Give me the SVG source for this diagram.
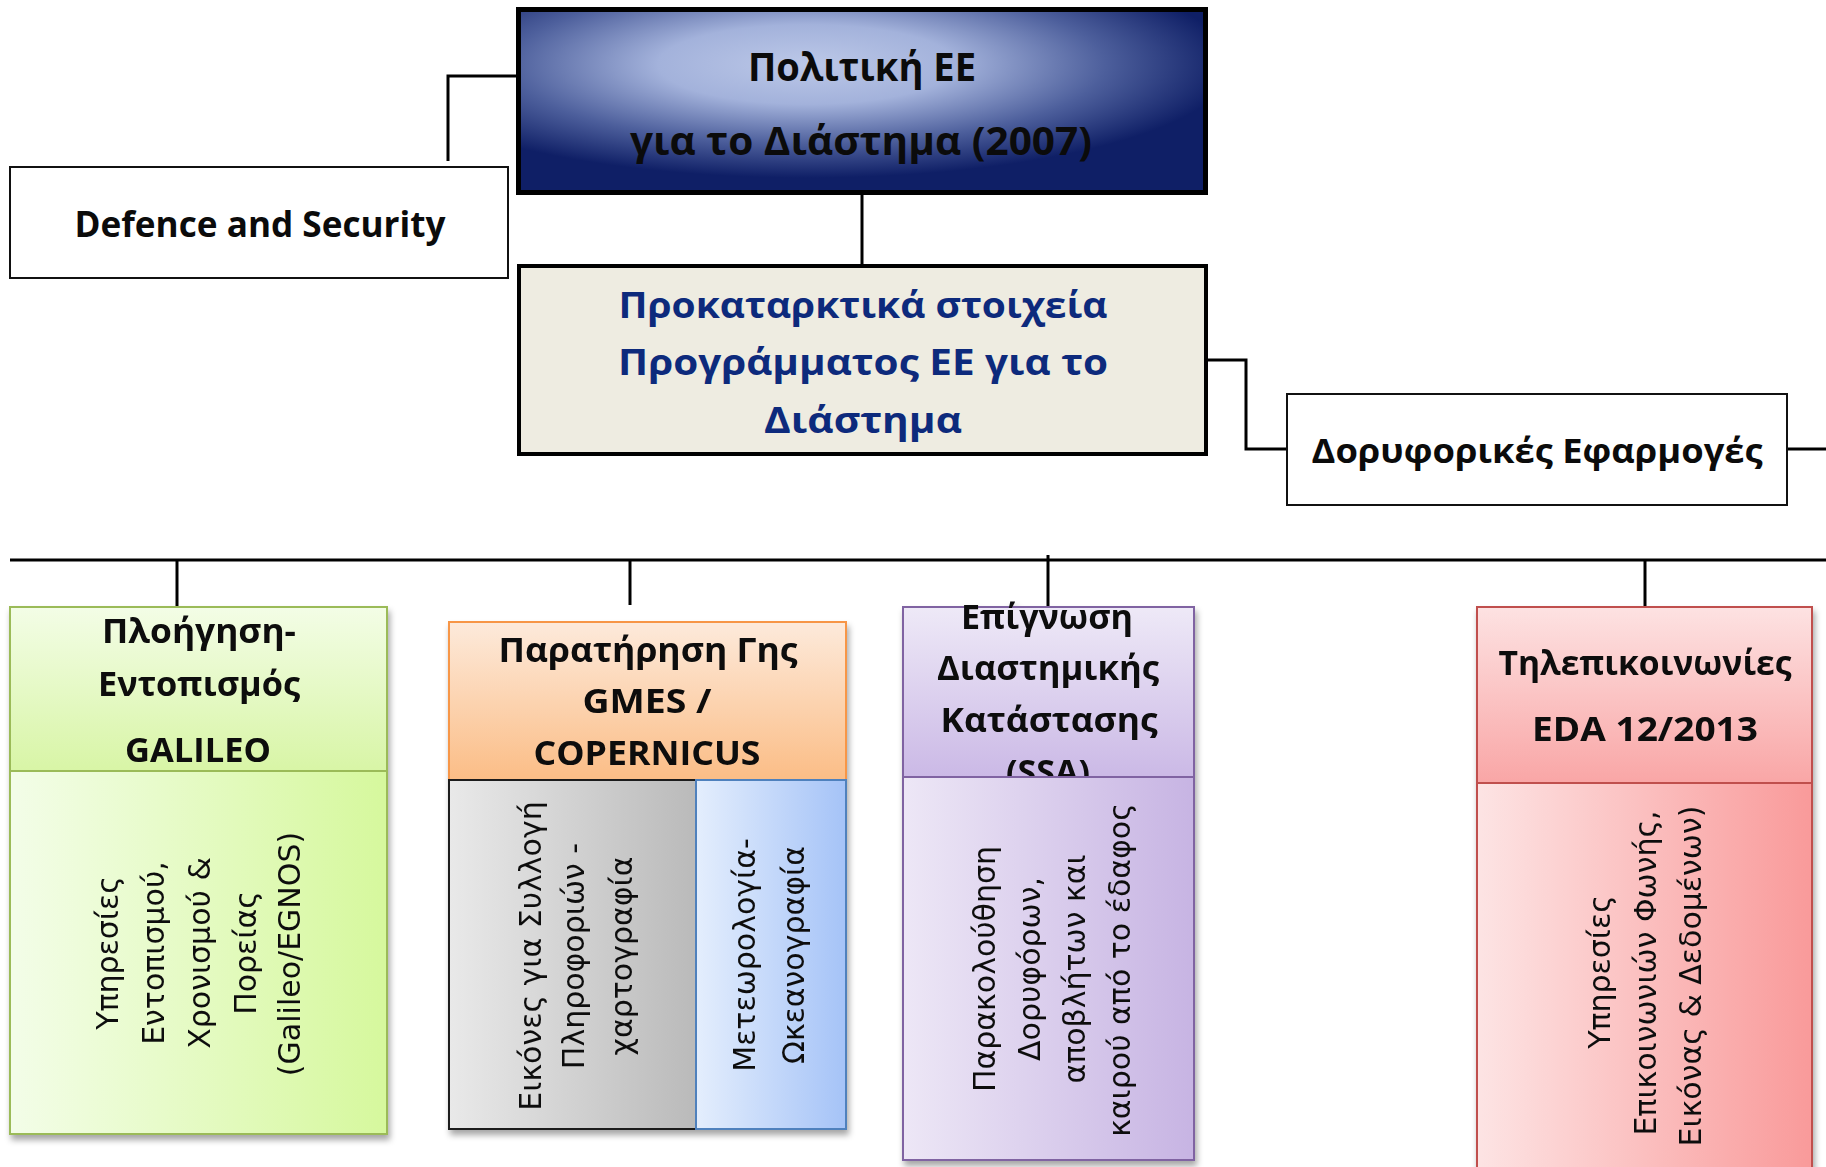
<svg xmlns="http://www.w3.org/2000/svg" width="1826" height="1167" viewBox="0 0 1826 1167">
<defs>
<radialGradient id="gTitle" cx="0.42" cy="0.3" r="0.62">
<stop offset="0" stop-color="#bcc8e8"/>
<stop offset="0.35" stop-color="#a3b2db"/>
<stop offset="0.7" stop-color="#4d5f9c"/>
<stop offset="1" stop-color="#0f1f66"/>
</radialGradient>
<linearGradient id="gGreenH" x1="0" y1="0" x2="0" y2="1"><stop offset="0" stop-color="#f3fde6"/><stop offset="1" stop-color="#d8f5a6"/></linearGradient>
<linearGradient id="gGreenB" x1="0" y1="0" x2="1" y2="0"><stop offset="0" stop-color="#f3fde8"/><stop offset="1" stop-color="#d6f89d"/></linearGradient>
<linearGradient id="gOrangeH" x1="0" y1="0" x2="0" y2="1"><stop offset="0" stop-color="#fdeadb"/><stop offset="1" stop-color="#fbbd86"/></linearGradient>
<linearGradient id="gGray" x1="0" y1="0" x2="1" y2="0"><stop offset="0" stop-color="#e9e9e9"/><stop offset="1" stop-color="#bababa"/></linearGradient>
<linearGradient id="gBlue" x1="0" y1="0" x2="1" y2="0"><stop offset="0" stop-color="#e4eefd"/><stop offset="1" stop-color="#a5c3f7"/></linearGradient>
<linearGradient id="gPurpleH" x1="0" y1="0" x2="0" y2="1"><stop offset="0" stop-color="#eee9f7"/><stop offset="1" stop-color="#cbb9e6"/></linearGradient>
<linearGradient id="gPurpleB" x1="0" y1="0" x2="1" y2="0"><stop offset="0" stop-color="#ede7f6"/><stop offset="1" stop-color="#c7b4e3"/></linearGradient>
<linearGradient id="gRedH" x1="0" y1="0" x2="0" y2="1"><stop offset="0" stop-color="#fde2e2"/><stop offset="1" stop-color="#f9a6a6"/></linearGradient>
<linearGradient id="gRedB" x1="0" y1="0" x2="1" y2="0"><stop offset="0" stop-color="#fde4e4"/><stop offset="1" stop-color="#f99a9a"/></linearGradient>
<filter id="sh" x="-10%" y="-10%" width="120%" height="125%">
<feDropShadow dx="2" dy="5" stdDeviation="3" flood-color="#000" flood-opacity="0.35"/>
</filter>
</defs>
<style>
.b{font-family:"Open Sans","Noto Sans","DejaVu Sans",sans-serif;font-weight:bold;text-anchor:middle;fill:#0b0b0b}
.t40{font-size:40px}
.t35{font-size:35px}
.t34{font-size:34px}
.blue{fill:#0d2a7c}
.r{font-family:"DejaVu Sans","Noto Sans",sans-serif;font-size:30px;text-anchor:middle;fill:#111}
.ln{stroke:#000;stroke-width:3;fill:none}
</style>

<g id="connectors">
<polyline class="ln" points="517,76 448,76 448,161"/>
<line class="ln" x1="862" y1="195" x2="862" y2="265"/>
<polyline class="ln" points="1208,360 1246,360 1246,449 1287,449"/>
<line class="ln" x1="1788" y1="449" x2="1826" y2="449"/>
<line class="ln" x1="10" y1="560" x2="1826" y2="560" stroke-width="4"/>
<line class="ln" x1="177" y1="560" x2="177" y2="608"/>
<line class="ln" x1="630" y1="560" x2="630" y2="605"/>
<line class="ln" x1="1048" y1="555" x2="1048" y2="606"/>
<line class="ln" x1="1645" y1="560" x2="1645" y2="606"/>
</g>

<g id="node-politiki">
<rect x="518.5" y="9.5" width="687" height="183" fill="url(#gTitle)" stroke="#000" stroke-width="5"/>
<text class="b t40" x="862" y="81" textLength="228" lengthAdjust="spacingAndGlyphs">Πολιτική ΕΕ</text>
<text class="b t40" x="861" y="155" textLength="462" lengthAdjust="spacingAndGlyphs">για το Διάστημα (2007)</text>
</g>

<g id="node-defence">
<rect x="10" y="167" width="498" height="111" fill="#fff" stroke="#111" stroke-width="2"/>
<text class="b t35" x="260" y="237" textLength="371" lengthAdjust="spacingAndGlyphs">Defence and Security</text>
</g>

<g id="node-prokatarktika">
<rect x="519" y="266" width="687" height="188" fill="#eeece1" stroke="#000" stroke-width="4"/>
<text class="b t35 blue" x="863" y="318" textLength="489" lengthAdjust="spacingAndGlyphs">Προκαταρκτικά στοιχεία</text>
<text class="b t35 blue" x="863" y="375" textLength="490" lengthAdjust="spacingAndGlyphs">Προγράμματος ΕΕ για το</text>
<text class="b t35 blue" x="863" y="433" textLength="198" lengthAdjust="spacingAndGlyphs">Διάστημα</text>
</g>

<g id="node-doryforikes">
<rect x="1287" y="394" width="500" height="111" fill="#fff" stroke="#111" stroke-width="2"/>
<text class="b t34" x="1537" y="463" textLength="451" lengthAdjust="spacingAndGlyphs">Δορυφορικές Εφαρμογές</text>
</g>

<g id="node-galileo" filter="url(#sh)">
<rect x="10" y="607" width="377" height="164" fill="url(#gGreenH)" stroke="#9bbb59" stroke-width="2"/>
<rect x="10" y="771" width="377" height="363" fill="url(#gGreenB)" stroke="#9bbb59" stroke-width="2"/>
<text class="b t34" x="199" y="643" textLength="194" lengthAdjust="spacingAndGlyphs">Πλοήγηση-</text>
<text class="b t34" x="199" y="696" textLength="202" lengthAdjust="spacingAndGlyphs">Εντοπισμός</text>
<text class="b t34" x="198" y="762" textLength="146" lengthAdjust="spacingAndGlyphs">GALILEO</text>
<text class="r" transform="translate(118,953) rotate(-90)">Υπηρεσίες</text>
<text class="r" transform="translate(164,953) rotate(-90)">Εντοπισμού,</text>
<text class="r" transform="translate(210,953) rotate(-90)">Χρονισμού &amp;</text>
<text class="r" transform="translate(256,953) rotate(-90)">Πορείας</text>
<text class="r" transform="translate(300,954) rotate(-90)">(Galileo/EGNOS)</text>
</g>

<g id="node-copernicus" filter="url(#sh)">
<rect x="449" y="622" width="397" height="158" fill="url(#gOrangeH)" stroke="#f79646" stroke-width="2"/>
<rect x="449" y="780" width="247" height="349" fill="url(#gGray)" stroke="#1a1a1a" stroke-width="2"/>
<rect x="696" y="780" width="150" height="349" fill="url(#gBlue)" stroke="#4f81bd" stroke-width="2"/>
<text class="b t34" x="648" y="662" textLength="299" lengthAdjust="spacingAndGlyphs">Παρατήρηση Γης</text>
<text class="b t34" x="647" y="713" textLength="129" lengthAdjust="spacingAndGlyphs">GMES /</text>
<text class="b t34" x="647" y="765" textLength="227" lengthAdjust="spacingAndGlyphs">COPERNICUS</text>
<text class="r" transform="translate(541,956) rotate(-90)">Εικόνες για Συλλογή</text>
<text class="r" transform="translate(584,956) rotate(-90)">Πληροφοριών -</text>
<text class="r" transform="translate(632,956) rotate(-90)">χαρτογραφία</text>
<text class="r" transform="translate(755,955) rotate(-90)">Μετεωρολογία-</text>
<text class="r" transform="translate(804,955) rotate(-90)">Ωκεανογραφία</text>
</g>

<g id="node-ssa" filter="url(#sh)">
<rect x="903" y="607" width="291" height="170" fill="url(#gPurpleH)" stroke="#8064a2" stroke-width="2"/>
<text class="b t34" x="1047" y="629" textLength="172" lengthAdjust="spacingAndGlyphs">Επίγνωση</text>
<text class="b t34" x="1048" y="680" textLength="222" lengthAdjust="spacingAndGlyphs">Διαστημικής</text>
<text class="b t34" x="1049" y="732" textLength="217" lengthAdjust="spacingAndGlyphs">Κατάστασης</text>
<text class="b t34" x="1048" y="784">(SSA)</text>
<rect x="903" y="777" width="291" height="383" fill="url(#gPurpleB)" stroke="#8064a2" stroke-width="2"/>
<text class="r" transform="translate(995,969) rotate(-90)">Παρακολούθηση</text>
<text class="r" transform="translate(1040,969) rotate(-90)">Δορυφόρων,</text>
<text class="r" transform="translate(1085,969) rotate(-90)">αποβλήτων και</text>
<text class="r" transform="translate(1130,970) rotate(-90)">καιρού από το έδαφος</text>
</g>

<g id="node-telecom" filter="url(#sh)">
<rect x="1477" y="607" width="335" height="176" fill="url(#gRedH)" stroke="#c0504d" stroke-width="2"/>
<rect x="1477" y="783" width="335" height="390" fill="url(#gRedB)" stroke="#c0504d" stroke-width="2"/>
<text class="b t34" x="1645" y="675" textLength="293" lengthAdjust="spacingAndGlyphs">Τηλεπικοινωνίες</text>
<text class="b t34" x="1645" y="741" textLength="226" lengthAdjust="spacingAndGlyphs">EDA 12/2013</text>
<text class="r" transform="translate(1610,972) rotate(-90)">Υπηρεσίες</text>
<text class="r" transform="translate(1656,973) rotate(-90)">Επικοινωνιών Φωνής,</text>
<text class="r" transform="translate(1701,976) rotate(-90)">Εικόνας &amp; Δεδομένων)</text>
</g>
</svg>
